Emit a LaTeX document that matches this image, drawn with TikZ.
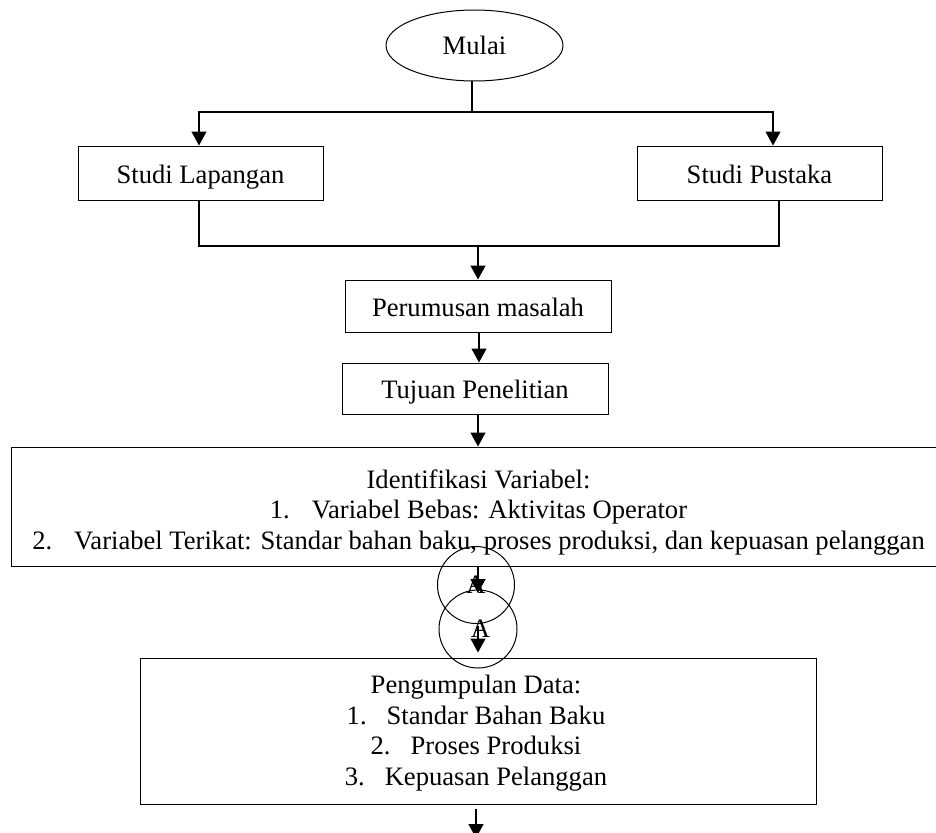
\documentclass[tikz,border=0pt]{standalone}
\usepackage{fontspec}
\setmainfont{Liberation Serif}
\usetikzlibrary{arrows.meta,shapes.geometric}
\begin{document}
\begin{tikzpicture}[x=1pt,y=-1pt,
  every node/.style={font=\fontsize{26.6}{30.5}\selectfont},
  boxnode/.style={draw,line width=1pt,inner sep=0pt,text height=23pt,text depth=3pt},
  conn/.style={line width=1.3pt},
  arr/.style={conn,-{Triangle[width=15pt,length=14pt]}},
  acirc/.style={draw,circle,line width=1pt,minimum size=77pt,inner sep=0pt}]
\useasboundingbox (0,0) rectangle (936,832);
\clip (0,0) rectangle (936,832);

\node[draw,ellipse,line width=1pt,minimum width=177pt,minimum height=71pt,inner sep=0pt] (mulai) at (474.5,45.5) {Mulai};

\node[boxnode,minimum width=245pt,minimum height=54pt] (studiL) at (200.5,173) {Studi Lapangan};
\node[boxnode,minimum width=245pt,minimum height=54pt] (studiP) at (759.5,173) {Studi Pustaka};
\node[boxnode,minimum width=266pt,minimum height=52pt] (rumus) at (478,306) {Perumusan masalah};
\node[boxnode,minimum width=266pt,minimum height=51pt] (tujuan) at (475,388.5) {Tujuan Penelitian};
\node[draw,line width=1pt,inner sep=0pt,minimum width=935pt,minimum height=119pt] (idbox) at (478.5,506.5) {};
\node[align=center,inner sep=0pt] (idtext) at (478.5,512) {Identifikasi Variabel:\\
1.\hskip 22pt Variabel Bebas: Aktivitas Operator\\
2.\hskip 22pt Variabel Terikat: Standar bahan baku, proses produksi, dan kepuasan pelanggan};

\node[acirc] (a1) at (476,585) {A};
\node[acirc,minimum size=78pt] (a2) at (478,629) {\hskip 5pt A};

\node[draw,line width=1pt,inner sep=0pt,minimum width=676pt,minimum height=146pt] (pbox) at (478,731) {};
\node[align=center,inner sep=0pt] (ptext) at (476,733) {Pengumpulan Data:\\
1.\hskip 20pt Standar Bahan Baku\\
2.\hskip 20pt Proses Produksi\\
3.\hskip 20pt Kepuasan Pelanggan};

\coordinate (j1) at (472,112);
\coordinate (j2) at (478,246);
\coordinate (a1tip) at (478,593);
\coordinate (a2start) at (478,626);
\coordinate (endc) at (476,838);

\draw[conn] ([xshift=-2.5pt]mulai.south) -- (j1);
\draw[arr] (j1) -| ([xshift=-1.5pt]studiL.north);
\draw[arr] (j1) -| ([xshift=13.5pt]studiP.north);
\draw[conn] ([xshift=-1.5pt]studiL.south) |- (j2);
\draw[conn] ([xshift=19.5pt]studiP.south) |- (j2);
\draw[arr] (j2) -- (rumus.north);
\draw[arr] ([xshift=1pt]rumus.south) -- ([xshift=4pt]tujuan.north);
\draw[arr] ([xshift=3pt]tujuan.south) -- ([xshift=-0.5pt]idbox.north);
\draw[arr] ([xshift=-0.5pt]idbox.south) -- (a1tip);
\draw[arr,shorten >=5pt] (a2start) -- (pbox.north);
\draw[arr] ([xshift=-2pt,yshift=-4pt]pbox.south) -- (endc);
\end{tikzpicture}
\end{document}
